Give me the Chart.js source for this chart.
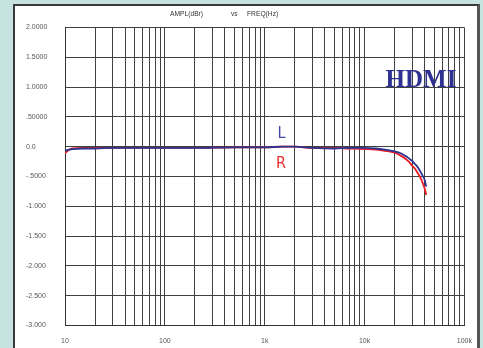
<!DOCTYPE html>
<html>
<head>
<meta charset="utf-8">
<script src="https://cdn.jsdelivr.net/npm/chart.js@4/dist/chart.umd.min.js"></script>
<style>
  html, body { margin:0; padding:0; background:#c6e3e1; width:483px; height:348px; overflow:hidden; }
  #panel { position:absolute; left:13px; top:4px; width:462px; height:360px; background:#fff;
           border-left:2px solid #3a3a3a; border-top:2px solid #3a3a3a; border-right:3px solid #555; }
  #wrap { position:absolute; left:0; top:0; width:483px; height:348px; }
</style>
</head>
<body>
<div id="panel"></div>
<div id="wrap"><canvas id="c" width="483" height="348"></canvas></div>
<script>
// ---- data ----
const freqs   = [10, 11, 12, 15, 20, 30, 50, 100, 200, 500, 1000, 1500, 2000, 3000, 5000, 7000, 10000, 13000, 16000, 20000, 23000, 26000, 28000, 30000, 32000, 34000, 36000, 38000, 40000, 41500];
const ampL    = [-0.07, -0.05, -0.04, -0.03, -0.03, -0.02, -0.02, -0.02, -0.02, -0.01, -0.01, 0.00, 0.00, -0.02, -0.03, -0.02, -0.02, -0.03, -0.05, -0.08, -0.11, -0.16, -0.20, -0.24, -0.29, -0.34, -0.41, -0.48, -0.56, -0.67];
const ampR    = [-0.11, -0.05, -0.03, -0.02, -0.02, -0.02, -0.02, -0.02, -0.02, -0.01, -0.01, 0.00, 0.00, -0.02, -0.02, -0.03, -0.04, -0.05, -0.07, -0.10, -0.15, -0.21, -0.26, -0.32, -0.37, -0.44, -0.51, -0.60, -0.70, -0.81];
const seriesNames = ['L', 'R'];
const xTickValues = [10,20,30,40,50,60,70,80,90,100,200,300,400,500,600,700,800,900,1000,2000,3000,4000,5000,6000,7000,8000,9000,10000,20000,30000,40000,50000,60000,70000,80000,90000,100000];
const xTickLabels = {10:'10', 100:'100', 1000:'1k', 10000:'10k', 100000:'100k'};
const yTickLabels = {'2':'2.0000','1.5':'1.5000','1':'1.0000','0.5':'.50000','0':'0.0','-0.5':'-.5000','-1':'-1.000','-1.5':'-1.500','-2':'-2.000','-2.5':'-2.500','-3':'-3.000'};
const titleParts = ['AMPL(dBr)', 'vs', 'FREQ(Hz)'];
const badge = 'HDMI';

const ptsL = freqs.map((f,i)=>({x:f, y:ampL[i]}));
const ptsR = freqs.map((f,i)=>({x:f, y:ampR[i]}));

const decor = {
  id:'decor',
  afterDraw(chart){
    const ctx = chart.ctx, ca = chart.chartArea;
    ctx.save();
    ctx.fillStyle = '#333';
    ctx.font = '6.7px "Liberation Sans", Arial, sans-serif';
    ctx.textBaseline = 'middle';
    ctx.textAlign = 'left';
    ctx.fillText(titleParts[0], ca.left + 105, 14);
    ctx.fillText(titleParts[1], ca.left + 166, 14);
    ctx.fillText(titleParts[2], ca.left + 182, 14);
    // badge
    ctx.fillStyle = '#2e3192';
    ctx.font = 'bold 25px "Liberation Serif", "Times New Roman", serif';
    ctx.textAlign = 'center';
    ctx.textBaseline = 'alphabetic';
    ctx.fillText(badge, 421, 86.5);
    // series labels
    ctx.font = '16px "Liberation Sans Narrow", "DejaVu Sans Condensed", sans-serif';
    ctx.textBaseline = 'middle';
    ctx.fillStyle = '#4548a8';
    ctx.fillText(seriesNames[0], 281.5, 134);
    ctx.fillStyle = '#e8302e';
    ctx.fillText(seriesNames[1], 281, 163.5);
    ctx.restore();
  }
};

new Chart(document.getElementById('c'), {
  type:'line',
  data:{
    datasets:[
      {label:seriesNames[0], data:ptsL, borderColor:'#2b3590', borderWidth:1.8, pointRadius:0, cubicInterpolationMode:'monotone', fill:false},
      {label:seriesNames[1], data:ptsR, borderColor:'#ec1c24', borderWidth:1.8, pointRadius:0, cubicInterpolationMode:'monotone', fill:false}
    ]
  },
  options:{
    responsive:false,
    devicePixelRatio:1,
    animation:false,
    layout:{padding:{left:26, right:14, top:27.5, bottom:0}},
    plugins:{legend:{display:false}, tooltip:{enabled:false}, title:{display:false}},
    scales:{
      x:{
        type:'logarithmic', min:10, max:100000,
        afterBuildTicks(scale){ scale.ticks = xTickValues.map(v=>({value:v})); },
        afterFit(scale){ scale.height = 22.5; },
        grid:{color:'#404040', lineWidth:1, drawTicks:false},
        border:{display:true, color:'#333', width:1},
        ticks:{autoSkip:false, maxRotation:0, minRotation:0, padding:11, color:'#555',
               font:{size:7, family:'"Liberation Sans", Arial, sans-serif'},
               callback:(v)=> xTickLabels[v] || ''}
      },
      y:{
        min:-3, max:2,
        afterFit(scale){ scale.width = 39; },
        grid:{color:'#404040', lineWidth:1, drawTicks:false},
        border:{display:true, color:'#333', width:1},
        ticks:{stepSize:0.5, autoSkip:false, crossAlign:'far', padding:0, color:'#555',
               font:{size:7, family:'"Liberation Sans", Arial, sans-serif'},
               callback:(v)=> yTickLabels[String(Math.round(v*10)/10)] ?? ''}
      }
    }
  },
  plugins:[decor]
});
</script>
</body>
</html>
